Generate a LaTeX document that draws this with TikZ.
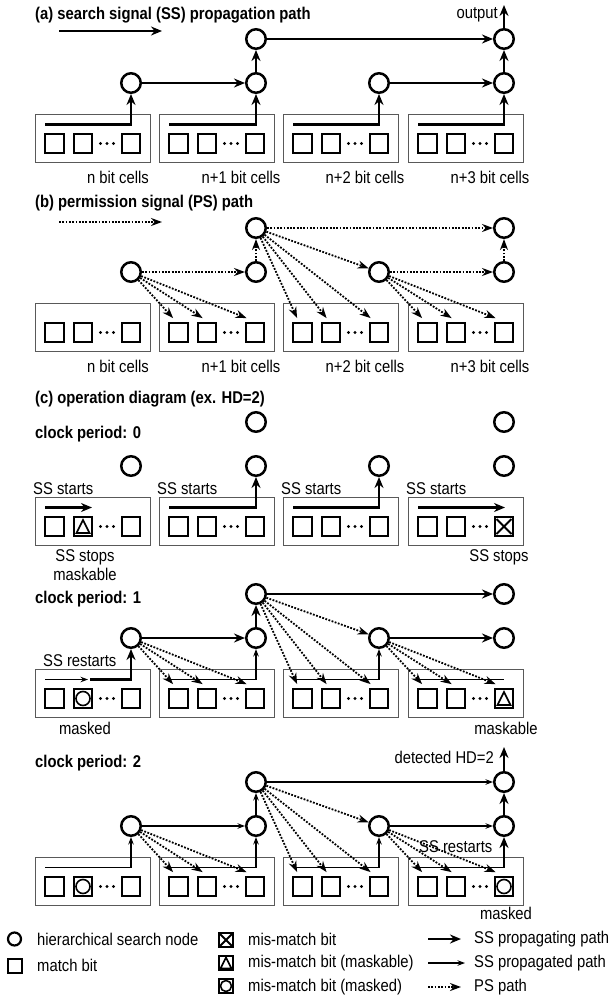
\documentclass[tikz,border=0pt]{standalone}
\usepackage{fontspec}
\usepackage{graphicx}
\setmainfont{Liberation Sans}
\usetikzlibrary{arrows.meta,calc}

\newcommand\fs{\fontsize{14.8}{17}\selectfont}
\newcommand\st[1]{\scalebox{1}[1.15]{#1}}

% cell box: #1 name, #2 left x, #3 top y
\newcommand\cellbox[3]{%
  \node[cbox] (#1) at ($(#2,#3)+(57.5,24)$) {};
  \node[bit] (#1s1) at ($(#2,#3)+(19.5,29)$) {};
  \node[bit] (#1s2) at ($(#2,#3)+(48,29)$) {};
  \node[bit] (#1s3) at ($(#2,#3)+(96,29)$) {};
  \fill ($(#2,#3)+(65.5,29)$) circle (1.7pt) ($(#2,#3)+(72,29)$) circle (1.7pt) ($(#2,#3)+(78.5,29)$) circle (1.7pt);
  \coordinate (#1l) at ($(#2,#3)+(10,10)$);
  \coordinate (#1c) at ($(#2,#3)+(96,10)$);
  \coordinate (#1t1) at ($(#1s1.north west)+(5,-4)$);
  \coordinate (#1t2) at ($(#1s2.north west)+(6,-4)$);
  \coordinate (#1t3) at ($(#1s3.north west)+(2,-4)$);
}
% stage: #1 prefix, #2 y of lower node row
\newcommand\stage[2]{%
  \foreach \i/\xx in {1/131,2/256,3/379,4/504} {\node[hnode] (#1N\i) at (\xx,#2) {};}
  \node[hnode] (#1U2) at (256,#2-44) {};
  \node[hnode] (#1U4) at (504,#2-44) {};
  \cellbox{#1B1}{35}{#2+31.5}
  \cellbox{#1B2}{159}{#2+31.5}
  \cellbox{#1B3}{283}{#2+31.5}
  \cellbox{#1B4}{408}{#2+31.5}
}
\newcommand\fans[1]{%
  \draw[psp] (#1N1) -- (#1B2t1);
  \draw[psp] (#1N1) -- (#1B2t2);
  \draw[psp] (#1N1) -- (#1B2t3);
  \draw[psp] (#1U2) -- (#1B3t1);
  \draw[psp] (#1U2) -- (#1B3t2);
  \draw[psp] (#1U2) -- (#1B3t3);
  \draw[psp] (#1U2) -- (#1N3);
  \draw[psp] (#1N3) -- (#1B4t1);
  \draw[psp] (#1N3) -- (#1B4t2);
  \draw[psp] (#1N3) -- (#1B4t3);
}
\newcommand\symX[2]{\draw[line width=1.8pt] ($(#1)+(-#2,-#2)$) -- ($(#1)+(#2,#2)$) ($(#1)+(-#2,#2)$) -- ($(#1)+(#2,-#2)$);}
\newcommand\symT[2]{\draw[line width=1.6pt,line join=miter] ($(#1)+(-#2,#2)$) -- ($(#1)+(0,-#2)$) -- ($(#1)+(#2,#2)$) -- cycle;}
\newcommand\symO[2]{\draw[line width=1.6pt] (#1) circle (#2pt);}

\begin{document}
\begin{tikzpicture}[x=1pt,y=-1pt,
  hnode/.style={circle,draw,line width=2.5pt,minimum size=19.5pt,inner sep=0pt},
  bit/.style={rectangle,draw,line width=2.3pt,minimum size=18.5pt,inner sep=0pt},
  cbox/.style={rectangle,draw=black!65,line width=1pt,minimum width=115pt,minimum height=48pt,inner sep=0pt},
  txt/.style={font=\fs,inner sep=0pt},
  btxt/.style={font=\fs\bfseries,inner sep=0pt},
  ssp/.style={line width=2.5pt,-{Stealth[length=11pt,width=9pt]}},
  ssd/.style={line width=1.2pt,-{Stealth[length=7.5pt,width=5.5pt]}},
  ssl/.style={line width=1.2pt},
  psp/.style={line width=1.8pt,dash pattern=on 1.8pt off 1.5pt,-{Stealth[length=11pt,width=8pt]}},
]
\useasboundingbox (0,0) rectangle (608,1001);

% ---------------- (a)
\node[btxt,anchor=west] (ta) at (35,15) {\st{(a) search signal (SS) propagation path}};
\coordinate (aLs) at (59,31); \coordinate (aLe) at (162,31);
\draw[ssp] (aLs) -- (aLe);
\stage{a}{83}
\coordinate (aOut) at (504,5);
\draw[ssp] (aB1l) -| (aN1);
\draw[ssp] (aB2l) -| (aN2);
\draw[ssp] (aB3l) -| (aN3);
\draw[ssp] (aB4l) -| (aN4);
\draw[ssp] (aN1) -- (aN2);
\draw[ssp] (aN2) -- (aU2);
\draw[ssp] (aU2) -- (aU4);
\draw[ssp] (aN3) -- (aN4);
\draw[ssp] (aN4) -- (aU4);
\draw[ssp] (aU4) -- (aOut);
\node[txt,anchor=east] (aOutT) at (498,15) {\st{output}};
\node[txt] (al1) at (118,177) {\st{n bit cells}};
\node[txt] (al2) at (241,177) {\st{n+1 bit cells}};
\node[txt] (al3) at (365,177) {\st{n+2 bit cells}};
\node[txt] (al4) at (490,177) {\st{n+3 bit cells}};

% ---------------- (b)
\node[btxt,anchor=west] (tb) at (35,203) {\st{(b) permission signal (PS) path}};
\coordinate (bLs) at (59,222); \coordinate (bLe) at (162,222);
\draw[psp] (bLs) -- (bLe);
\stage{b}{272}
\fans{b}
\draw[psp] (bN1) -- (bN2);
\draw[psp] (bN2) -- (bU2);
\draw[psp] (bU2) -- (bU4);
\draw[psp] (bN3) -- (bN4);
\draw[psp] (bN4) -- (bU4);
\node[txt] (bl1) at (118,366) {\st{n bit cells}};
\node[txt] (bl2) at (241,366) {\st{n+1 bit cells}};
\node[txt] (bl3) at (365,366) {\st{n+2 bit cells}};
\node[txt] (bl4) at (490,366) {\st{n+3 bit cells}};

% ---------------- (c) clock 0
\node[btxt,anchor=west] (tc) at (35,399) {\st{(c) operation diagram (ex. HD=2)}};
\node[btxt,anchor=west] (tc0) at (35,434) {\st{clock period: 0}};
\stage{c}{466}
\coordinate (cA1) at ($(cB1l)+(47,0)$);
\draw[ssp] (cB1l) -- (cA1);
\draw[ssp] (cB2l) -| (cN2);
\draw[ssp] (cB3l) -| (cN3);
\coordinate (cA4) at ($(cB4c)+(1,0)$);
\draw[ssp] (cB4l) -- (cA4);
\symT{cB1s2}{6.5}
\symX{cB4s3}{7.5}
\node[txt,anchor=west] (cs1) at (33,489) {\st{SS starts}};
\node[txt,anchor=west] (cs2) at (157,489) {\st{SS starts}};
\node[txt,anchor=west] (cs3) at (281,489) {\st{SS starts}};
\node[txt,anchor=west] (cs4) at (406,489) {\st{SS starts}};
\node[txt] (cst1) at (85,557) {\st{SS stops}};
\node[txt] (cmk1) at (85,574) {\st{maskable}};
\node[txt] (cst4) at (499,557) {\st{SS stops}};

% ---------------- clock 1
\node[btxt,anchor=west] (tc1) at (35,599) {\st{clock period: 1}};
\stage{d}{638}
\fans{d}
\coordinate (dA1) at ($(dB1l)+(43,0)$);
\coordinate (dA1b) at ($(dB1l)+(45,0)$);
\draw[ssd] (dB1l) -- (dA1);
\draw[ssp] (dA1b) -| (dN1);
\draw[ssd] (dB2l) -| (dN2);
\draw[ssd] (dB3l) -| (dN3);
\draw[ssl] (dB4l) -- (dB4c);
\draw[ssp] (dN1) -- (dN2);
\draw[ssp] (dN2) -- (dU2);
\draw[ssp] (dU2) -- (dU4);
\draw[ssp] (dN3) -- (dN4);
\symO{dB1s2}{7}
\symT{dB4s3}{6.5}
\node[txt,anchor=west] (dsr) at (43,661) {\st{SS restarts}};
\node[txt] (dm1) at (85,728) {\st{masked}};
\node[txt] (dm4) at (506,728) {\st{maskable}};

% ---------------- clock 2
\node[btxt,anchor=west] (tc2) at (35,763) {\st{clock period: 2}};
\stage{e}{826}
\fans{e}
\coordinate (eOut) at (504,747);
\draw[ssd] (eB1l) -| (eN1);
\draw[ssd] (eB2l) -| (eN2);
\draw[ssd] (eB3l) -| (eN3);
\draw[ssl] (eB4l) -- (eB4c);
\draw[ssp] (eB4c) -- (eN4);
\draw[ssd] (eN1) -- (eN2);
\draw[ssd] (eN2) -- (eU2);
\draw[ssd] (eU2) -- (eU4);
\draw[ssd] (eN3) -- (eN4);
\draw[ssp] (eN4) -- (eU4);
\draw[ssp] (eU4) -- (eOut);
\symO{eB1s2}{7}
\symO{eB4s3}{7}
\node[txt,anchor=east] (edet) at (494,757) {\st{detected HD=2}};
\node[txt,anchor=west] (esr) at (419,847) {\st{SS restarts}};
\node[txt] (em4) at (506,913) {\st{masked}};

% ---------------- legend
\node[hnode,minimum size=13pt,line width=2.2pt] (lgC) at (14.5,939) {};
\node[txt,anchor=west] (lgCt) at (37,939) {\st{hierarchical search node}};
\node[bit,minimum size=14pt] (lgS) at (15,966) {};
\node[txt,anchor=west] (lgSt) at (37,965) {\st{match bit}};
\node[bit,minimum size=14pt,line width=2.6pt] (lgX) at (226,940) {};
\symX{lgX}{6}
\node[txt,anchor=west] (lgXt) at (248,939) {\st{mis-match bit}};
\node[bit,minimum size=14pt,line width=2.6pt] (lgT) at (226,963) {};
\symT{lgT}{5.5}
\node[txt,anchor=west] (lgTt) at (248,963) {\st{mis-match bit (maskable)}};
\node[bit,minimum size=14pt,line width=2.6pt] (lgO) at (226,986) {};
\symO{lgO}{5.5}
\node[txt,anchor=west] (lgOt) at (248,987) {\st{mis-match bit (masked)}};
\coordinate (lg1s) at (428,939); \coordinate (lg1e) at (461,939);
\coordinate (lg2s) at (428,963); \coordinate (lg2e) at (465,963);
\coordinate (lg3s) at (428,987); \coordinate (lg3e) at (461,987);
\draw[ssp] (lg1s) -- (lg1e);
\draw[ssd] (lg2s) -- (lg2e);
\draw[psp] (lg3s) -- (lg3e);
\node[txt,anchor=west] (lg1t) at (474,939) {\st{SS propagating path}};
\node[txt,anchor=west] (lg2t) at (474,963) {\st{SS propagated path}};
\node[txt,anchor=west] (lg3t) at (474,987) {\st{PS path}};
\end{tikzpicture}
\end{document}
